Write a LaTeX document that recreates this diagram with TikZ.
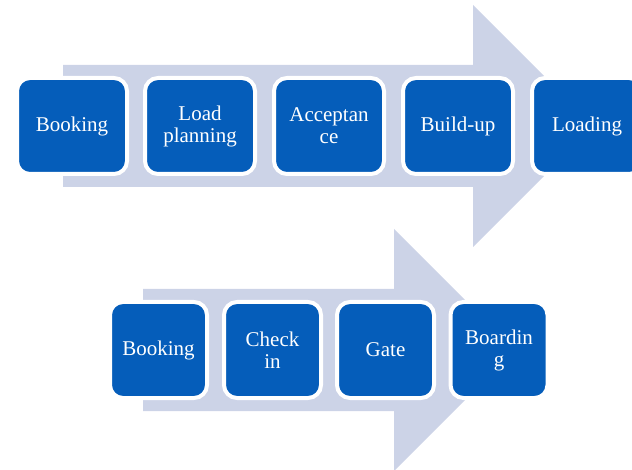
\documentclass[tikz,border=0pt]{standalone}
\usepackage{fontspec}
\setmainfont{Liberation Serif}
\definecolor{boxblue}{RGB}{5,93,186}
\definecolor{arrowfill}{RGB}{204,211,231}
\tikzset{
  stepbox/.style={rounded corners=13pt, fill=boxblue, draw=white, line width=4pt,
    minimum height=96pt, inner sep=0pt, align=center, text=white,
    font=\fontsize{21}{22}\selectfont},
  topbox/.style={stepbox, minimum width=110pt},
  botbox/.style={stepbox, minimum width=97pt},
  bigarrow/.style={fill=arrowfill, draw=none}
}
\begin{document}
\begin{tikzpicture}[x=1pt,y=-1pt]
\useasboundingbox (0,0) rectangle (632,470);
\clip (0,0) rectangle (632,470);
% arrows
\path[bigarrow] (63,65) -- (473,65) -- (473,5) -- (594,126) -- (473,247) -- (473,187) -- (63,187) -- cycle;
\path[bigarrow] (143,289) -- (394,289) -- (394,229) -- (515,350) -- (394,471) -- (394,411) -- (143,411) -- cycle;
% top row
\node[topbox] (t1) at (72,126) {Booking};
\node[topbox] (t2) at (200,126) {Load\\planning};
\node[topbox] (t3) at (329,126) {Acceptan\\ce};
\node[topbox] (t4) at (458,126) {Build-up};
\node[topbox] (t5) at (587,126) {Loading};
% bottom row
\node[botbox] (b1) at (158.5,350) {Booking};
\node[botbox] (b2) at (272.5,350) {Check\\in};
\node[botbox] (b3) at (385.5,350) {Gate};
\node[botbox] (b4) at (499,350) {Boardin\\g};
\end{tikzpicture}
\end{document}
